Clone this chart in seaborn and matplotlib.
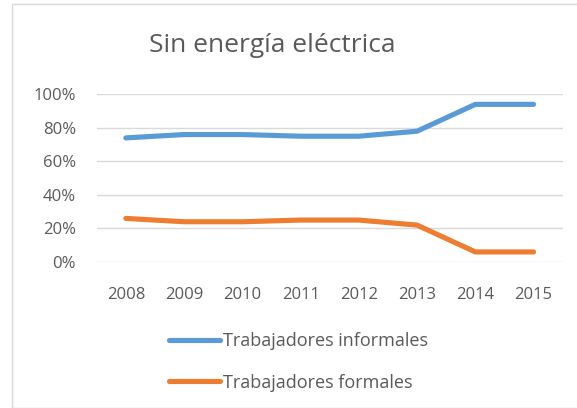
import matplotlib
matplotlib.use("Agg")
import matplotlib.pyplot as plt
import seaborn as sns
import pandas as pd
from matplotlib.lines import Line2D
from matplotlib.patches import Rectangle
from matplotlib.ticker import PercentFormatter

years = ["2008", "2009", "2010", "2011", "2012", "2013", "2014", "2015"]
informales = [0.74, 0.76, 0.76, 0.75, 0.75, 0.78, 0.94, 0.94]
formales = [0.26, 0.24, 0.24, 0.25, 0.25, 0.22, 0.06, 0.06]
series_names = ["Trabajadores informales", "Trabajadores formales"]
colors = ["#5B9BD5", "#ED7D31"]
title = "Sin energía eléctrica"

sns.set_theme(style="white")
plt.rcParams["font.family"] = ["Open Sans", "DejaVu Sans"]

df = pd.DataFrame({
    "year": years * 2,
    "value": informales + formales,
    "serie": [series_names[0]] * len(years) + [series_names[1]] * len(years),
})

fig = plt.figure(figsize=(5.77, 4.08), dpi=100)
fig.patches.append(Rectangle((12 / 577, 0.0), 1.2, 1 - 4 / 408, transform=fig.transFigure,
                             fill=False, edgecolor="#D9D9D9", linewidth=1.0))
ax = fig.add_axes([96.7 / 577, 1 - 262 / 408, (562.7 - 96.7) / 577, (262 - 94.3) / 408])

sns.lineplot(data=df, x="year", y="value", hue="serie", palette=colors,
             linewidth=3.7, ax=ax, legend=False, sort=False)
for l in ax.lines:
    l.set_solid_capstyle("round")

ax.set_xlim(-0.5, len(years) - 0.5)
ax.set_ylim(0, 1.0)
ax.set_yticks([0, 0.2, 0.4, 0.6, 0.8, 1.0])
ax.yaxis.set_major_formatter(PercentFormatter(1.0, decimals=0))
ax.grid(axis="y", color="#D9D9D9", linewidth=1.0)
ax.set_axisbelow(True)
for s in ax.spines.values():
    s.set_visible(False)
ax.set_xlabel("")
ax.set_ylabel("")
ax.tick_params(axis="both", length=0, labelsize=12, labelcolor="#595959")
ax.tick_params(axis="y", pad=15)
ax.tick_params(axis="x", pad=18)

fig.text(272 / 577, 1 - 45 / 408, title, ha="center", va="center", fontsize=19, color="#595959")

handles = [Line2D([0], [0], color=c, linewidth=3.7, solid_capstyle="round") for c in colors]
leg = fig.legend(handles, series_names, loc="upper left", bbox_to_anchor=(153 / 577, 1 - 316 / 408),
                 frameon=False, fontsize=13, handlelength=2.8, handletextpad=0.15,
                 labelspacing=1.3, labelcolor="#595959")

fig.savefig("out.png", dpi=100)
